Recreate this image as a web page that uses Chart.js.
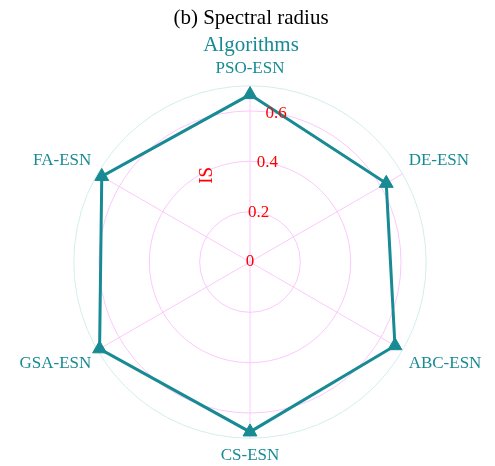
<!DOCTYPE html>
<html>
<head>
<meta charset="utf-8">
<script src="https://cdn.jsdelivr.net/npm/chart.js@4.4.0/dist/chart.umd.min.js"></script>
<style>
  html, body { margin: 0; padding: 0; background: #fff; }
  #wrap { width: 495px; height: 466px; }
</style>
</head>
<body>
<div id="wrap"><canvas id="radar"></canvas></div>
<script>
// Algorithms and their spectral radius scores
const algorithms = ['PSO-ESN', 'DE-ESN', 'ABC-ESN', 'CS-ESN', 'GSA-ESN', 'FA-ESN'];
const isValues = [0.665, 0.625, 0.665, 0.675, 0.69, 0.68];
const tickValues = [0, 0.2, 0.4, 0.6];
const axisMax = 0.7;

const TEAL = '#178a93';
const SERIF = "'Liberation Serif', 'Times New Roman', serif";

// radial tick labels along a slightly tilted axis, plus the rotated "IS" title
const tiltedTicks = {
  id: 'tiltedTicks',
  afterDatasetsDraw(chart) {
    const r = chart.scales.r;
    const ctx = chart.ctx;
    const tilt = 10 * Math.PI / 180;
    ctx.save();
    ctx.fillStyle = 'red';
    ctx.font = '17px ' + SERIF;
    ctx.textAlign = 'center';
    ctx.textBaseline = 'middle';
    tickValues.forEach(v => {
      const d = r.getDistanceFromCenterForValue(v);
      ctx.fillText(String(v), r.xCenter + d * Math.sin(tilt), r.yCenter - d * Math.cos(tilt));
    });
    // axis title
    const d = r.getDistanceFromCenterForValue(0.31);
    const q = 57;
    const x = r.xCenter + d * Math.sin(tilt) - q * Math.cos(tilt);
    const y = r.yCenter - d * Math.cos(tilt) - q * Math.sin(tilt);
    ctx.translate(x, y);
    ctx.rotate(-Math.PI / 2);
    ctx.font = '19px ' + SERIF;
    ctx.fillText('IS', 0, 0);
    ctx.restore();
  }
};

new Chart(document.getElementById('radar'), {
  type: 'radar',
  data: {
    labels: algorithms,
    datasets: [{
      label: 'IS',
      data: isValues,
      borderColor: TEAL,
      backgroundColor: 'rgba(0,0,0,0)',
      borderWidth: 3,
      pointStyle: 'triangle',
      pointRadius: 8,
      pointBackgroundColor: TEAL,
      pointBorderColor: TEAL,
      pointBorderWidth: 1,
      fill: false
    }]
  },
  options: {
    responsive: true,
    maintainAspectRatio: false,
    animation: false,
    layout: { padding: { top: 0, bottom: -4, left: 7, right: 0 } },
    plugins: {
      legend: { display: false },
      tooltip: { enabled: false },
      title: {
        display: true,
        text: '(b) Spectral radius',
        color: '#000',
        font: { family: SERIF, size: 21, weight: 'normal' },
        padding: { top: 6, bottom: 0 }
      },
      subtitle: {
        display: true,
        text: 'Algorithms',
        color: TEAL,
        font: { family: SERIF, size: 21, weight: 'normal' },
        padding: { top: 2, bottom: 0 }
      }
    },
    scales: {
      r: {
        min: 0,
        max: axisMax,
        ticks: { stepSize: 0.2, display: false },
        grid: {
          circular: true,
          lineWidth: 1,
          color: ctx => ctx.tick && ctx.tick.value >= axisMax ? '#d3eeee' : '#fcc8fc'
        },
        angleLines: { color: '#fcc8fc', lineWidth: 1 },
        pointLabels: {
          color: TEAL,
          padding: 7,
          font: { family: SERIF, size: 17 }
        }
      }
    }
  },
  plugins: [tiltedTicks]
});
</script>
</body>
</html>
